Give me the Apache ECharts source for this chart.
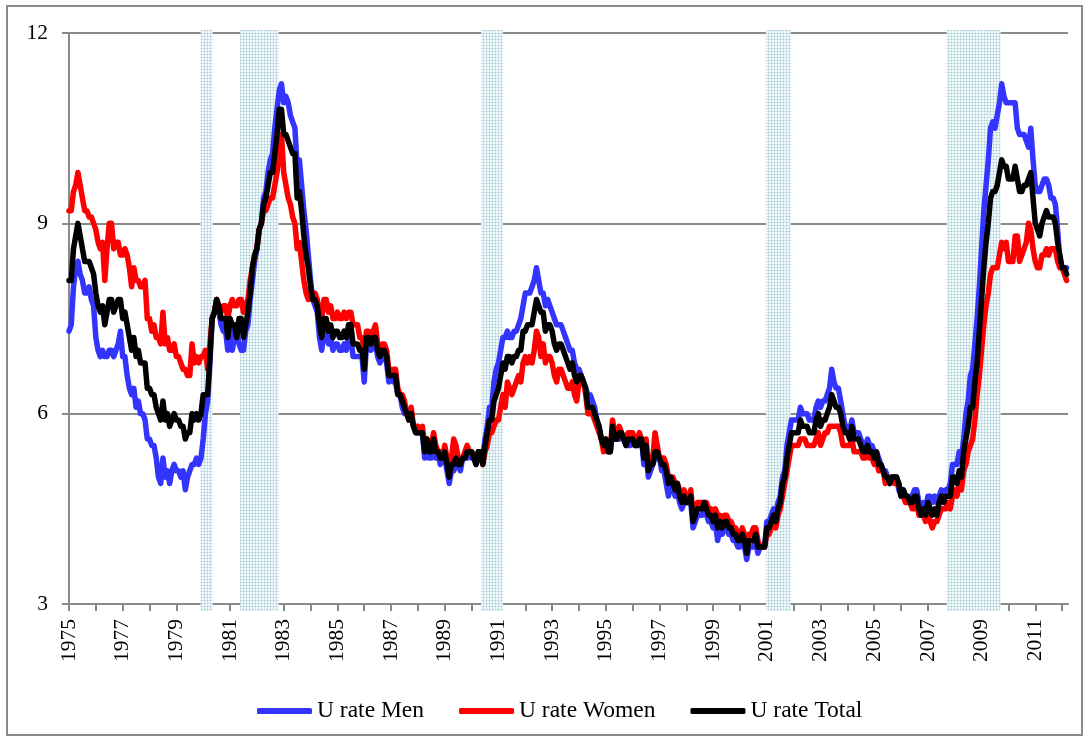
<!DOCTYPE html>
<html><head><meta charset="utf-8">
<script src="https://cdn.jsdelivr.net/npm/echarts@6/dist/echarts.min.js"></script>
<style>html,body{margin:0;padding:0;background:#fff}#c{width:1088px;height:741px}</style>
</head><body><div id="c"></div>
<script>
// Monthly data, January 1975 onward
const startYear = 1975;
const seriesNames = ['U rate Men', 'U rate Women', 'U rate Total'];
const men = [
7.3,7.4,8.0,8.3,8.4,8.2,8.1,7.9,7.9,8.0,7.8,7.7,
7.2,7.0,6.9,7.0,6.9,6.9,7.0,7.0,6.9,7.0,7.1,7.3,
6.9,6.9,6.6,6.4,6.3,6.4,6.1,6.2,6.0,6.0,5.9,5.6,
5.6,5.5,5.5,5.3,5.0,4.9,5.3,5.0,5.1,4.9,5.1,5.2,
5.1,5.1,5.0,5.1,4.8,5.0,5.1,5.2,5.2,5.3,5.2,5.3,
5.6,6.0,6.2,6.8,7.5,7.6,7.8,7.6,7.4,7.3,7.3,7.0,
7.4,7.0,7.2,7.3,7.1,7.0,7.0,7.3,7.4,7.8,8.1,8.4,
8.6,8.9,9.0,9.4,9.5,9.8,10.0,10.1,10.5,10.8,11.1,11.2,
10.9,11.0,10.9,10.7,10.6,10.5,9.9,10.0,9.6,9.2,8.9,8.5,
8.1,7.8,7.7,7.6,7.2,7.0,7.3,7.3,7.1,7.2,7.0,7.1,
7.1,7.0,7.0,7.1,7.0,7.2,7.2,6.9,6.9,6.9,6.9,6.9,
6.5,7.1,7.1,7.0,7.1,7.1,6.9,6.8,6.9,6.9,6.8,6.5,
6.6,6.5,6.5,6.3,6.3,6.1,6.0,6.0,5.9,6.0,5.8,5.7,
5.7,5.7,5.7,5.3,5.6,5.3,5.3,5.5,5.3,5.4,5.2,5.3,
5.3,5.1,4.9,5.1,5.1,5.2,5.2,5.1,5.3,5.3,5.3,5.4,
5.3,5.3,5.2,5.4,5.4,5.3,5.6,5.8,6.1,6.1,6.5,6.7,
6.8,7.0,7.2,7.2,7.3,7.2,7.2,7.3,7.3,7.4,7.5,7.7,
7.9,7.9,7.9,8.0,8.1,8.3,8.1,7.9,7.9,7.7,7.8,7.7,
7.6,7.5,7.4,7.4,7.4,7.3,7.2,7.1,7.0,7.0,6.8,6.7,
6.7,6.6,6.5,6.4,6.3,6.3,6.2,6.1,5.9,5.8,5.6,5.5,
5.6,5.4,5.4,5.7,5.6,5.6,5.6,5.7,5.6,5.5,5.5,5.5,
5.6,5.5,5.5,5.5,5.6,5.2,5.4,5.0,5.1,5.2,5.3,5.4,
5.3,5.1,5.1,4.9,4.7,4.9,4.8,4.7,4.8,4.6,4.5,4.6,
4.6,4.6,4.6,4.2,4.3,4.4,4.4,4.4,4.6,4.4,4.3,4.3,
4.2,4.3,4.0,4.2,4.1,4.2,4.2,4.1,4.1,4.0,4.0,3.9,
3.9,4.0,3.9,3.7,3.9,3.9,3.9,4.0,3.8,3.9,3.9,3.9,
4.3,4.3,4.4,4.5,4.4,4.6,4.7,5.0,5.1,5.5,5.7,5.9,
5.9,5.9,5.9,6.1,6.0,6.0,6.0,5.9,5.9,5.9,6.1,6.2,
6.1,6.2,6.2,6.3,6.4,6.7,6.5,6.4,6.4,6.2,6.0,5.8,
5.8,5.7,5.9,5.7,5.7,5.7,5.6,5.5,5.5,5.6,5.5,5.5,
5.4,5.4,5.3,5.2,5.1,5.1,5.0,4.9,5.0,5.0,5.0,4.8,
4.7,4.8,4.7,4.7,4.6,4.7,4.8,4.8,4.6,4.5,4.6,4.5,
4.7,4.7,4.6,4.7,4.6,4.7,4.8,4.7,4.8,4.8,4.9,5.2,
5.2,5.2,5.4,5.3,5.6,6.0,6.2,6.6,6.7,7.1,7.5,8.0,
8.6,9.2,9.6,10.0,10.5,10.6,10.5,10.7,10.9,11.2,11.0,10.9,
10.9,10.9,10.9,10.9,10.5,10.4,10.4,10.4,10.3,10.2,10.5,10.0,
9.6,9.5,9.5,9.6,9.7,9.7,9.6,9.4,9.4,9.3,8.9,8.4,
8.3,8.3,8.3
];
const women = [
9.2,9.2,9.5,9.6,9.8,9.6,9.4,9.2,9.2,9.1,9.1,9.0,
8.9,8.7,8.6,8.7,8.1,8.6,9.0,9.0,8.6,8.7,8.7,8.5,
8.5,8.6,8.5,8.3,8.0,8.3,8.1,8.1,8.0,8.0,8.1,7.5,
7.5,7.3,7.4,7.2,7.2,7.1,7.6,7.1,7.2,7.0,7.0,7.1,
6.9,6.9,6.8,6.7,6.7,6.6,6.6,7.1,6.8,6.9,6.8,6.9,
6.9,7.0,6.7,7.1,7.5,7.6,7.8,7.7,7.6,7.7,7.7,7.5,
7.7,7.8,7.7,7.7,7.8,7.8,7.6,7.7,7.8,8.1,8.3,8.5,
8.6,8.9,9.0,9.2,9.2,9.3,9.4,9.4,9.6,9.8,10.1,10.4,
9.8,9.6,9.4,9.3,9.1,9.0,8.6,8.7,8.4,8.1,7.9,7.8,
7.9,7.8,7.9,7.8,7.6,7.5,7.8,7.8,7.6,7.7,7.5,7.5,
7.6,7.5,7.5,7.6,7.5,7.6,7.6,7.4,7.4,7.4,7.2,7.2,
7.0,7.3,7.3,7.2,7.3,7.4,7.1,7.0,7.1,7.1,7.0,6.7,
6.6,6.7,6.7,6.4,6.3,6.3,6.2,6.0,5.9,6.1,5.8,5.8,
5.8,5.7,5.8,5.5,5.6,5.5,5.5,5.7,5.5,5.4,5.4,5.3,
5.5,5.3,5.2,5.3,5.6,5.5,5.3,5.3,5.3,5.4,5.5,5.4,
5.4,5.3,5.3,5.4,5.3,5.2,5.4,5.5,5.7,5.7,5.8,5.9,
5.9,6.1,6.3,6.1,6.5,6.4,6.3,6.4,6.5,6.6,6.5,6.8,
6.9,6.8,6.9,6.8,7.0,7.3,7.2,6.9,7.1,6.8,6.9,6.9,
6.8,6.6,6.5,6.7,6.7,6.6,6.5,6.4,6.4,6.5,6.3,6.2,
6.5,6.5,6.5,6.3,6.0,6.0,6.0,5.9,5.8,5.7,5.6,5.4,
5.6,5.5,5.4,5.9,5.7,5.6,5.8,5.7,5.6,5.6,5.7,5.7,
5.7,5.5,5.6,5.7,5.6,5.4,5.6,5.2,5.3,5.3,5.7,5.5,
5.3,5.3,5.3,5.2,5.0,5.0,5.0,4.9,4.9,4.8,4.7,4.8,
4.7,4.6,4.8,4.4,4.5,4.6,4.6,4.6,4.6,4.6,4.5,4.5,
4.4,4.5,4.4,4.4,4.3,4.4,4.4,4.3,4.3,4.2,4.2,4.1,
4.1,4.2,4.1,4.0,4.1,4.1,4.2,4.2,4.0,3.9,3.9,3.9,
4.1,4.1,4.2,4.3,4.2,4.4,4.5,4.7,4.9,5.1,5.3,5.5,
5.5,5.5,5.5,5.6,5.6,5.6,5.5,5.5,5.5,5.5,5.6,5.7,
5.5,5.6,5.7,5.7,5.8,5.8,5.8,5.8,5.8,5.7,5.5,5.5,
5.5,5.5,5.6,5.4,5.4,5.4,5.4,5.3,5.3,5.4,5.3,5.3,
5.2,5.3,5.1,5.1,5.1,4.9,5.0,4.9,5.0,4.9,4.9,4.9,
4.7,4.7,4.6,4.6,4.6,4.5,4.5,4.6,4.4,4.4,4.4,4.3,
4.5,4.3,4.2,4.3,4.3,4.4,4.5,4.5,4.5,4.6,4.5,4.7,
4.8,4.7,4.9,4.8,5.1,5.2,5.4,5.5,5.6,5.9,6.3,6.6,
7.0,7.4,7.7,7.9,8.2,8.3,8.3,8.3,8.5,8.7,8.6,8.7,
8.4,8.4,8.4,8.8,8.8,8.4,8.5,8.6,8.7,9.0,8.9,8.6,
8.4,8.3,8.3,8.5,8.5,8.6,8.5,8.6,8.6,8.6,8.4,8.3,
8.3,8.2,8.1
];
const total = [
8.1,8.1,8.6,8.8,9.0,8.8,8.6,8.4,8.4,8.4,8.3,8.2,
7.9,7.7,7.6,7.7,7.4,7.6,7.8,7.8,7.6,7.7,7.8,7.8,
7.5,7.6,7.4,7.2,7.0,7.2,6.9,7.0,6.8,6.8,6.8,6.4,
6.4,6.3,6.3,6.1,6.0,5.9,6.2,5.9,6.0,5.8,5.9,6.0,
5.9,5.9,5.8,5.8,5.6,5.7,5.7,6.0,5.9,6.0,5.9,6.0,
6.3,6.3,6.3,6.9,7.5,7.6,7.8,7.7,7.5,7.5,7.5,7.2,
7.5,7.4,7.4,7.2,7.5,7.5,7.2,7.4,7.6,7.9,8.3,8.5,
8.6,8.9,9.0,9.3,9.4,9.6,9.8,9.8,10.1,10.4,10.8,10.8,
10.4,10.4,10.3,10.2,10.1,10.1,9.4,9.5,9.2,8.8,8.5,8.3,
8.0,7.8,7.8,7.7,7.4,7.2,7.5,7.5,7.3,7.4,7.2,7.3,
7.3,7.2,7.2,7.3,7.2,7.4,7.4,7.1,7.1,7.1,7.0,7.0,
6.7,7.2,7.2,7.1,7.2,7.2,7.0,6.9,7.0,7.0,6.9,6.6,
6.6,6.6,6.6,6.3,6.3,6.2,6.1,6.0,5.9,6.0,5.8,5.7,
5.7,5.7,5.7,5.4,5.6,5.4,5.4,5.6,5.4,5.4,5.3,5.3,
5.4,5.2,5.0,5.2,5.2,5.3,5.2,5.2,5.3,5.3,5.4,5.4,
5.4,5.3,5.2,5.4,5.4,5.2,5.5,5.7,5.9,5.9,6.2,6.3,
6.4,6.6,6.8,6.7,6.9,6.9,6.8,6.9,6.9,7.0,7.0,7.3,
7.3,7.4,7.4,7.4,7.6,7.8,7.7,7.6,7.6,7.3,7.4,7.4,
7.3,7.1,7.0,7.1,7.1,7.0,6.9,6.8,6.7,6.8,6.6,6.5,
6.6,6.6,6.5,6.4,6.1,6.1,6.1,6.0,5.9,5.8,5.6,5.5,
5.6,5.4,5.4,5.8,5.6,5.6,5.7,5.7,5.6,5.5,5.6,5.6,
5.6,5.5,5.5,5.6,5.6,5.3,5.5,5.1,5.2,5.2,5.4,5.4,
5.3,5.2,5.2,5.1,4.9,5.0,4.9,4.8,4.9,4.7,4.6,4.7,
4.6,4.6,4.7,4.3,4.4,4.5,4.5,4.5,4.6,4.5,4.4,4.4,
4.3,4.4,4.2,4.3,4.2,4.3,4.3,4.2,4.2,4.1,4.1,4.0,
4.0,4.1,4.0,3.8,4.0,4.0,4.0,4.1,3.9,3.9,3.9,3.9,
4.2,4.2,4.3,4.4,4.3,4.5,4.6,4.9,5.0,5.3,5.5,5.7,
5.7,5.7,5.7,5.9,5.8,5.8,5.8,5.7,5.7,5.7,5.9,6.0,
5.8,5.9,5.9,6.0,6.1,6.3,6.2,6.1,6.1,6.0,5.8,5.7,
5.7,5.6,5.8,5.6,5.6,5.6,5.5,5.4,5.4,5.5,5.4,5.4,
5.3,5.4,5.2,5.2,5.1,5.0,5.0,4.9,5.0,5.0,5.0,4.9,
4.7,4.8,4.7,4.7,4.6,4.6,4.7,4.7,4.5,4.4,4.5,4.4,
4.6,4.5,4.4,4.5,4.4,4.6,4.7,4.6,4.7,4.7,4.7,5.0,
5.0,4.9,5.1,5.0,5.4,5.6,5.8,6.1,6.1,6.5,6.8,7.3,
7.8,8.3,8.7,9.0,9.4,9.5,9.5,9.6,9.8,10.0,9.9,9.9,
9.7,9.7,9.7,9.9,9.7,9.5,9.5,9.6,9.6,9.7,9.8,9.4,
9.0,8.9,8.8,9.0,9.1,9.2,9.1,9.1,9.1,9.0,8.7,8.5,
8.3,8.3,8.2
];
// Recession shading (start, end) in decimal years
const recessions = [[1979.90,1980.35],[1981.37,1982.81],[1990.35,1991.17],[2000.96,2001.89],[2007.70,2009.71]];
const tickYears = [1975,1976,1977,1978,1979,1980,1981,1982,1983,1984,1985,1986,1987,1988,1989,1990,1991,1992,1993,1994,1995,1996,1997,1998,1999,2000,2001,2002,2003,2004,2005,2006,2007,2008,2009,2010,2011,2012];
const labelYears = [1975,1977,1979,1981,1983,1985,1987,1989,1991,1993,1995,1997,1999,2001,2003,2005,2007,2009,2011];
const yTicks = [3,6,9,12];

const timeAxis = total.map((_, i) => startYear + i / 12);
const pair = arr => arr.map((v, i) => [timeAxis[i], v]);

// dotted pattern for recession bands
const pc = document.createElement('canvas'); pc.width = 3; pc.height = 3;
const g = pc.getContext('2d');
g.fillStyle = '#f1f8f9'; g.fillRect(0,0,3,3);
g.fillStyle = '#d2e7eb'; g.fillRect(0,0,3,1); g.fillRect(0,0,1,3);
g.fillStyle = '#a6cbd4'; g.fillRect(0,0,1,1);
const pattern = { image: pc, repeat: 'repeat' };

const gray = '#8a8a8a';
const font = 'Liberation Serif';
const chart = echarts.init(document.getElementById('c'), null, { renderer: 'canvas' });
const lineSeries = (name, data, color, z) => ({
  name, type: 'line', data: pair(data), showSymbol: false, symbol: 'none', z,
  lineStyle: { color, width: 5.5, cap: 'round', join: 'round' }, itemStyle: { color },
  emphasis: { disabled: true }
});
chart.setOption({
  animation: false,
  backgroundColor: '#fff',
  graphic: [{ type: 'rect', shape: { x: 7, y: 6, width: 1075, height: 729 }, style: { fill: 'none', stroke: gray, lineWidth: 2 }, z: -10 }],
  grid: { left: 69, top: 33, right: 20, bottom: 137, containLabel: false, outerBoundsMode: 'none' },
  legend: {
    data: seriesNames, left: 252, top: 694, itemWidth: 55, itemHeight: 6, itemGap: 35, icon: 'roundRect',
    textStyle: { fontFamily: font, fontSize: 23.5, color: '#000' }, selectedMode: false
  },
  xAxis: {
    type: 'value', min: 1975, max: 2012.22,
    axisLine: { onZero: false, lineStyle: { color: gray, width: 2 } },
    axisTick: { length: 7, lineStyle: { color: gray, width: 2 }, customValues: tickYears },
    axisLabel: { rotate: 90, margin: 15, fontFamily: font, fontSize: 21.5, color: '#000', customValues: labelYears, formatter: v => String(v) },
    splitLine: { show: false }
  },
  yAxis: {
    type: 'value', min: 3, max: 12, interval: 3,
    axisLine: { show: true, lineStyle: { color: gray, width: 2 } },
    axisTick: { show: true, length: 7, lineStyle: { color: gray, width: 2 } },
    axisLabel: { margin: 21, fontFamily: font, fontSize: 21.5, color: '#000', customValues: yTicks },
    splitLine: { show: true, lineStyle: { color: gray, width: 2 } }
  },
  series: [
    {
      type: 'custom', data: recessions, clip: false, z: 1, silent: true,
      renderItem: (params, api) => {
        const p0 = api.coord([api.value(0), 12]);
        const p1 = api.coord([api.value(1), 3]);
        return { type: 'rect', shape: { x: p0[0], y: p0[1] - 3, width: p1[0] - p0[0], height: p1[1] - p0[1] + 10 }, style: { fill: pattern } };
      }
    },
    lineSeries(seriesNames[0], men, '#3434ff', 3),
    lineSeries(seriesNames[1], women, '#ff0000', 4),
    lineSeries(seriesNames[2], total, '#000000', 5)
  ]
});
</script></body></html>
